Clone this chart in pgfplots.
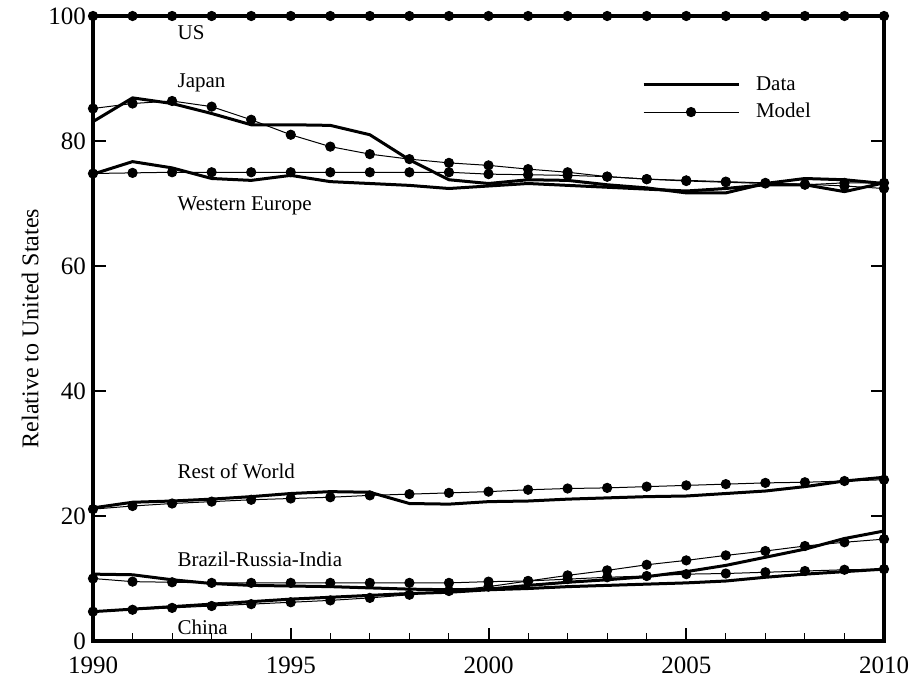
\documentclass[border=0pt]{standalone}
\usepackage{pgfplots}
\usepackage{pgfplotstable}
\pgfplotsset{compat=1.18}
\usepackage{fontspec}
\setmainfont{Liberation Serif}

\pgfplotstableread{
year us jpd jpm wed wem rwd rwm brd brm chd chm
1990 100 83.1 85.2 74.7 74.8 21.3 21.1 10.7 10.0 4.7 4.7
1991 100 86.9 86.0 76.7 74.9 22.2 21.6 10.6 9.5 5.1 5.0
1992 100 86.0 86.4 75.7 75.0 22.4 22.0 9.8 9.4 5.5 5.3
1993 100 84.4 85.5 74.0 75.0 22.7 22.3 9.2 9.3 5.9 5.6
1994 100 82.6 83.4 73.7 75.0 23.1 22.6 8.9 9.3 6.3 5.9
1995 100 82.6 81.0 74.5 75.0 23.6 22.8 8.8 9.3 6.7 6.2
1996 100 82.5 79.1 73.5 75.0 23.9 23.0 8.7 9.3 7.0 6.5
1997 100 81.0 77.9 73.2 75.0 23.8 23.3 8.5 9.3 7.3 6.9
1998 100 77.0 77.1 72.9 75.0 22.0 23.5 8.3 9.3 7.6 7.4
1999 100 73.8 76.5 72.4 75.0 21.9 23.7 8.2 9.3 7.8 8.0
2000 100 73.2 76.1 72.8 74.7 22.3 23.9 8.3 9.5 8.2 8.7
2001 100 73.8 75.5 73.2 74.6 22.4 24.2 8.9 9.6 8.4 9.6
2002 100 73.7 75.0 72.9 74.5 22.7 24.4 9.4 10.5 8.7 9.9
2003 100 73.0 74.3 72.6 74.3 22.9 24.5 9.8 11.3 8.9 10.2
2004 100 72.5 73.9 72.3 73.9 23.1 24.7 10.3 12.2 9.1 10.4
2005 100 71.7 73.6 72.0 73.7 23.2 24.9 11.1 12.9 9.3 10.7
2006 100 71.7 73.4 72.4 73.5 23.6 25.1 12.1 13.7 9.6 10.8
2007 100 73.2 73.2 73.0 73.3 24.0 25.3 13.4 14.4 10.2 11.0
2008 100 74.0 73.1 73.0 73.0 24.7 25.4 14.7 15.2 10.7 11.2
2009 100 73.8 72.8 71.9 73.3 25.6 25.6 16.4 15.8 11.1 11.4
2010 100 73.2 72.4 73.3 73.3 26.2 25.8 17.6 16.3 11.5 11.5
}\datatab

\begin{document}
\begin{tikzpicture}
\begin{axis}[
  at={(0pt,0pt)}, anchor=south west,
  scale only axis,
  width=395.5pt, height=312.5pt,
  xmin=1990, xmax=2010, ymin=0, ymax=100,
  xtick={1990,1995,2000,2005,2010},
  ytick={0,20,40,60,80,100},
  minor x tick num=4,
  xtick pos=left, ytick pos=both,
  tick align=inside,
  major tick length=6.5pt, minor tick length=3.8pt,
  every tick/.style={black, line width=1pt},
  minor tick style={line width=0.5pt},
  axis line style={line width=1.6pt},
  xticklabel style={/pgf/number format/1000 sep={}, font=\fontsize{12.5}{14}\selectfont, yshift=-4.5pt},
  yticklabel style={font=\fontsize{12.5}{14}\selectfont},
  /pgf/number format/assume math mode=true,
  ylabel={Relative to United States},
  ylabel style={font=\fontsize{12}{14}\selectfont, yshift=-2pt},
  clip=false,
  legend style={draw=none, fill=none, at={(rel axis cs:0.686,0.915)}, anchor=north west,
    font=\fontsize{10.5}{12}\selectfont, row sep=2pt, column sep=6.5pt,
    nodes={inner sep=1.5pt}},
  legend cell align=left,
  legend image code/.code={\draw[mark repeat=2,mark phase=2,#1] plot coordinates {(0pt,0pt)(23.75pt,0pt)(47.5pt,0pt)};},
  dataline/.style={black, line width=1.5pt, no marks},
  modelline/.style={black, line width=0.5pt, mark=*, mark size=2.3pt, mark options={solid, fill=black}},
]
\addplot[dataline] table[x=year,y=us]{\datatab};
\addlegendentry{Data}
\addplot[modelline] table[x=year,y=us]{\datatab};
\addlegendentry{Model}

\addplot[dataline, forget plot] table[x=year,y=jpd]{\datatab};
\addplot[modelline, forget plot] table[x=year,y=jpm]{\datatab};
\addplot[dataline, forget plot] table[x=year,y=wed]{\datatab};
\addplot[modelline, forget plot] table[x=year,y=wem]{\datatab};
\addplot[dataline, forget plot] table[x=year,y=rwd]{\datatab};
\addplot[modelline, forget plot] table[x=year,y=rwm]{\datatab};
\addplot[dataline, forget plot] table[x=year,y=brd]{\datatab};
\addplot[modelline, forget plot] table[x=year,y=brm]{\datatab};
\addplot[dataline, forget plot] table[x=year,y=chd]{\datatab};
\addplot[modelline, forget plot] table[x=year,y=chm]{\datatab};

\begin{scope}[every node/.style={anchor=west, inner sep=0pt, font=\fontsize{10.5}{12}\selectfont}]
\node at (axis cs:1992.13,97.3) {US};
\node at (axis cs:1992.13,89.3) {Japan};
\node at (axis cs:1992.13,69.6) {Western Europe};
\node at (axis cs:1992.13,27.1) {Rest of World};
\node at (axis cs:1992.13,13.1) {Brazil-Russia-India};
\node at (axis cs:1992.13,2.2) {China};
\end{scope}
\end{axis}
\pgfresetboundingbox
\path[use as bounding box] (-46.5pt,-20.5pt) rectangle (410pt,320.5pt);
\end{tikzpicture}
\end{document}
